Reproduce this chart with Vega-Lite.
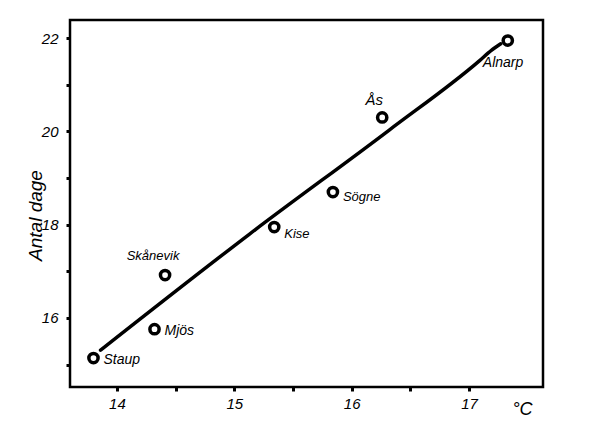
{
  "$schema": "https://vega.github.io/schema/vega-lite/v6.json",
  "width": 473,
  "height": 367,
  "autosize": {"type": "none"},
  "padding": {"left": 70, "top": 20, "right": 46, "bottom": 39},
  "background": "white",
  "config": {
    "view": {"stroke": "black", "strokeWidth": 2.5},
    "font": "Liberation Sans"
  },
  "datasets": {
    "pts": [
      {"station": "Staup", "temp": 13.80, "days": 15.14},
      {"station": "Mjös", "temp": 14.32, "days": 15.76},
      {"station": "Skånevik", "temp": 14.41, "days": 16.92},
      {"station": "Kise", "temp": 15.34, "days": 17.95},
      {"station": "Sögne", "temp": 15.84, "days": 18.70},
      {"station": "Ås", "temp": 16.26, "days": 20.30},
      {"station": "Alnarp", "temp": 17.33, "days": 21.95}
    ],
    "fit": [
      {"temp": 13.86, "days": 15.31},
      {"temp": 15.13, "days": 17.80},
      {"temp": 16.32, "days": 20.03},
      {"temp": 17.09, "days": 21.52},
      {"temp": 17.19, "days": 21.74},
      {"temp": 17.27, "days": 21.88}
    ]
  },
  "encoding": {
    "x": {
      "field": "temp", "type": "quantitative",
      "scale": {"domain": [13.6, 17.63], "nice": false, "zero": false},
      "axis": {
        "values": [14, 14.5, 15, 15.5, 16, 16.5, 17],
        "labelExpr": "datum.value % 1 == 0 ? format(datum.value, 'd') : ''",
        "grid": false, "domain": false,
        "tickColor": "black", "tickSize": 4, "tickWidth": 3,
        "labelFont": "Liberation Sans", "labelFontStyle": "italic", "labelFontSize": 15,
        "labelColor": "black", "labelPadding": 5,
        "title": "°C", "titleFont": "Liberation Sans", "titleFontStyle": "italic",
        "titleFontWeight": "normal", "titleFontSize": 18, "titleColor": "black",
        "titleX": 452, "titleY": 22, "titleAnchor": "start", "titleBaseline": "middle", "titleAlign": "center"
      }
    },
    "y": {
      "field": "days", "type": "quantitative",
      "scale": {"domain": [14.52, 22.39], "nice": false, "zero": false},
      "axis": {
        "values": [15, 16, 17, 18, 19, 20, 21, 22],
        "labelExpr": "datum.value % 2 == 0 ? format(datum.value, 'd') : ''",
        "grid": false, "domain": false,
        "tickColor": "black", "tickSize": 4, "tickWidth": 3,
        "labelFont": "Liberation Sans", "labelFontStyle": "italic", "labelFontSize": 15,
        "labelColor": "black", "labelPadding": 8,
        "title": "Antal dage", "titleFont": "Liberation Sans", "titleFontStyle": "italic",
        "titleFontWeight": "normal", "titleFontSize": 19, "titleColor": "black",
        "titleX": -35, "titleY": 195, "titleAlign": "center", "titleBaseline": "middle"
      }
    }
  },
  "layer": [
    {
      "data": {"name": "fit"},
      "mark": {"type": "line", "color": "black", "strokeWidth": 3.5, "interpolate": "monotone", "strokeCap": "round"}
    },
    {
      "data": {"name": "pts"},
      "mark": {"type": "point", "shape": "circle", "filled": false, "stroke": "black", "strokeWidth": 3.5, "size": 85, "fill": "white", "fillOpacity": 1}
    },
    {
      "data": {"name": "pts"},
      "transform": [{"filter": "datum.station == 'Staup' || datum.station == 'Mjös'"}],
      "mark": {"type": "text", "align": "left", "baseline": "middle", "dx": 10, "dy": 2, "fontSize": 14, "fontStyle": "italic", "color": "black"},
      "encoding": {"text": {"field": "station"}}
    },
    {
      "data": {"name": "pts"},
      "transform": [{"filter": "datum.station == 'Kise'"}],
      "mark": {"type": "text", "align": "left", "baseline": "middle", "dx": 10, "dy": 7, "fontSize": 13, "fontStyle": "italic", "color": "black"},
      "encoding": {"text": {"field": "station"}}
    },
    {
      "data": {"name": "pts"},
      "transform": [{"filter": "datum.station == 'Sögne'"}],
      "mark": {"type": "text", "align": "left", "baseline": "middle", "dx": 10, "dy": 5, "fontSize": 13, "fontStyle": "italic", "color": "black"},
      "encoding": {"text": {"field": "station"}}
    },
    {
      "data": {"name": "pts"},
      "transform": [{"filter": "datum.station == 'Skånevik'"}],
      "mark": {"type": "text", "align": "center", "baseline": "middle", "dx": -12, "dy": -19, "fontSize": 13, "fontStyle": "italic", "color": "black"},
      "encoding": {"text": {"field": "station"}}
    },
    {
      "data": {"name": "pts"},
      "transform": [{"filter": "datum.station == 'Ås'"}],
      "mark": {"type": "text", "align": "center", "baseline": "middle", "dx": -8, "dy": -17, "fontSize": 15, "fontStyle": "italic", "color": "black"},
      "encoding": {"text": {"field": "station"}}
    },
    {
      "data": {"name": "pts"},
      "transform": [{"filter": "datum.station == 'Alnarp'"}],
      "mark": {"type": "text", "align": "left", "baseline": "middle", "dx": -25, "dy": 22, "fontSize": 14, "fontStyle": "italic", "color": "black"},
      "encoding": {"text": {"field": "station"}}
    }
  ]
}
